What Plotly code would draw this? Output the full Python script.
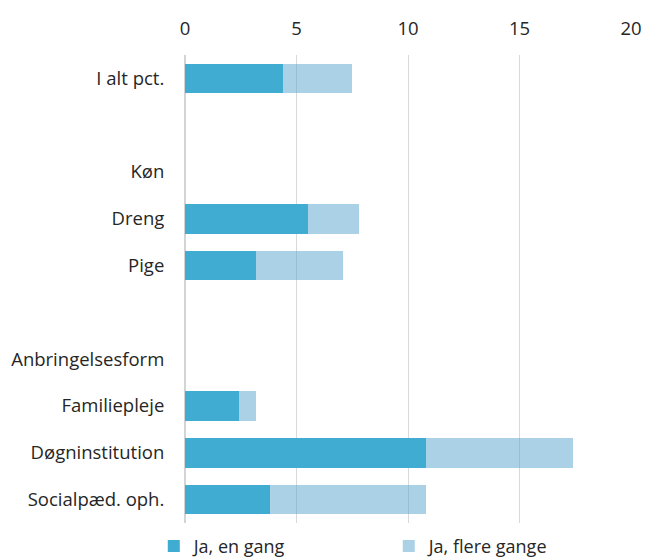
import plotly.graph_objects as go

categories = ["I alt pct.", " ", "Køn", "Dreng", "Pige", "  ",
              "Anbringelsesform", "Familiepleje", "Døgninstitution", "Socialpæd. oph."]
en_gang = [4.4, None, None, 5.5, 3.2, None, None, 2.4, 10.8, 3.8]
flere_gange = [3.1, None, None, 2.3, 3.9, None, None, 0.8, 6.6, 7.0]
x_ticks = [0, 5, 10, 15, 20]

FONT = "Open Sans"

fig = go.Figure()
fig.add_trace(go.Bar(
    y=categories, x=en_gang, orientation="h", name="Ja, en gang",
    marker=dict(color="#40acd2", line=dict(width=0)),
))
fig.add_trace(go.Bar(
    y=categories, x=flere_gange, orientation="h", name="Ja, flere gange",
    marker=dict(color="rgba(88,164,208,0.5)", line=dict(width=0)),
))

fig.update_layout(
    width=645, height=560,
    barmode="stack", bargap=0.37,
    plot_bgcolor="white", paper_bgcolor="white",
    margin=dict(l=185, r=14, t=55, b=37, autoexpand=False),
    font=dict(family=FONT, size=18.5, color="#262626"),
    showlegend=True,
    legend=dict(orientation="h", x=-0.07, xanchor="left", y=-0.01, yanchor="top",
                font=dict(size=18), entrywidth=190, traceorder="normal",
                itemwidth=30),
    hovermode=False,
)
fig.update_xaxes(
    side="top", range=[0, 20], tickvals=x_ticks, ticktext=[str(v) for v in x_ticks],
    showgrid=True, gridcolor="#d9d9d9", gridwidth=1,
    zeroline=True, zerolinecolor="#d4d4d4", zerolinewidth=2,
    showline=False, ticks="outside", ticklen=12, tickcolor="rgba(0,0,0,0)",
    fixedrange=True, automargin=False,
)
fig.update_yaxes(
    categoryorder="array", categoryarray=categories, autorange="reversed",
    showgrid=False, zeroline=False, showline=False,
    ticks="outside", ticklen=16, tickcolor="rgba(0,0,0,0)", automargin=False,
)

fig.write_html("out.html", config={"displayModeBar": False},
               post_script="document.body.style.margin='0';document.body.style.overflow='hidden';")
